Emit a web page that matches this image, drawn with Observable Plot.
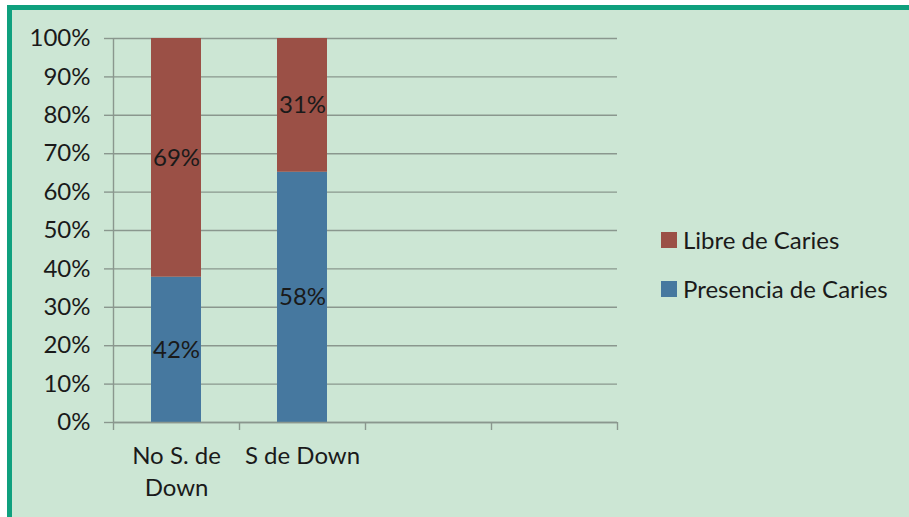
<!DOCTYPE html>
<html>
<head>
<meta charset="utf-8">
<script src="https://cdn.jsdelivr.net/npm/d3@7"></script>
<script src="https://cdn.jsdelivr.net/npm/@observablehq/plot@0.6"></script>
<style>
  body { margin: 0; background: #ffffff; }
  #wrap { position: relative; width: 909px; height: 517px; overflow: hidden; font-family: Lato, "Open Sans", sans-serif; }
  #wrap svg { position: absolute; left: 0; top: 0; background: #cce6d4; }
  .edge { position: absolute; }
  #legend { position: absolute; left: 661px; top: 215px; font-size: 24px; color: #1a1a1a; }
  #legend .item { display: flex; align-items: center; height: 49px; }
  #legend .sw { width: 16px; height: 16px; margin-right: 6px; }
</style>
</head>
<body>
<div id="wrap"></div>
<script>
const categories = ["No S. de Down", "S de Down", "", " "];
const seriesNames = ["Presencia de Caries", "Libre de Caries"];
const presencia = [42, 58];
const libre = [69, 31];
const yTicks = [0, 0.1, 0.2, 0.3, 0.4, 0.5, 0.6, 0.7, 0.8, 0.9, 1];
const colors = ["#46789f", "#9b5046"];

const data = [];
[presencia, libre].forEach((vals, s) => {
  vals.forEach((v, i) => data.push({ i, cat: categories[i], series: seriesNames[s], value: v }));
});
// keep bottom series first in each stack
data.sort((a, b) => a.i - b.i);

const gridColor = "#8a978e";
const textColor = "#1a1a1a";
const fs = 24;

const chart = Plot.plot({
  width: 909,
  height: 517,
  marginLeft: 113,
  marginRight: 292,
  marginTop: 38,
  marginBottom: 95,
  style: { fontFamily: "Lato, 'Open Sans', sans-serif", fontSize: fs + "px", color: textColor, background: "#cce6d4" },
  x: { domain: [0, categories.length], axis: null },
  y: { domain: [0, 1], axis: null },
  color: { domain: seriesNames, range: colors },
  marks: [
    Plot.gridY(yTicks, { stroke: gridColor, strokeOpacity: 1, strokeWidth: 1.4 }),
    Plot.axisY(yTicks, { tickSize: 9, tickPadding: 14, tickFormat: d3.format(".0%"), label: null, stroke: gridColor, strokeWidth: 1.4, fill: textColor, fontSize: fs }),
    Plot.axisX(d3.range(categories.length + 1), { tickSize: 8, tickFormat: () => "", label: null, stroke: gridColor, strokeWidth: 1.4 }),
    Plot.rectY(data, Plot.stackY({ offset: "normalize", x: "i", interval: 1, y: "value", fill: "series", insetLeft: 38, insetRight: 38 })),
    Plot.ruleX([0], { stroke: gridColor, strokeWidth: 1.4 }),
    Plot.ruleY([0], { stroke: gridColor, strokeWidth: 1.4 }),
    Plot.text(data, Plot.stackY({ offset: "normalize", x: d => d.i + 0.5, y: "value", text: d => d.value + "%", fill: textColor, fontSize: fs })),
    Plot.text(categories, { x: (d, i) => i + 0.5, y: 0, text: d => d, lineWidth: 5.5, lineAnchor: "top", dy: 19, lineHeight: 1.33, fill: textColor, fontSize: fs })
  ]
});

const wrap = document.getElementById("wrap");
wrap.appendChild(chart);

// frame edges like the original picture
function edge(l, t, w, h, c) {
  const e = document.createElement("div");
  e.className = "edge";
  Object.assign(e.style, { left: l + "px", top: t + "px", width: w + "px", height: h + "px", background: c });
  wrap.appendChild(e);
}
edge(0, 0, 909, 5, "#ffffff");
edge(0, 0, 7, 517, "#ffffff");
edge(7, 5, 902, 5, "#0fa07e");
edge(7, 5, 5, 512, "#0fa07e");

// legend built from the chart's colour scale
const color = chart.scale("color");
const legend = document.createElement("div");
legend.id = "legend";
[...color.domain].reverse().forEach(name => {
  const item = document.createElement("div");
  item.className = "item";
  const sw = document.createElement("div");
  sw.className = "sw";
  sw.style.background = color.range[color.domain.indexOf(name)];
  const label = document.createElement("span");
  label.textContent = name;
  item.appendChild(sw);
  item.appendChild(label);
  legend.appendChild(item);
});
wrap.appendChild(legend);
</script>
</body>
</html>
